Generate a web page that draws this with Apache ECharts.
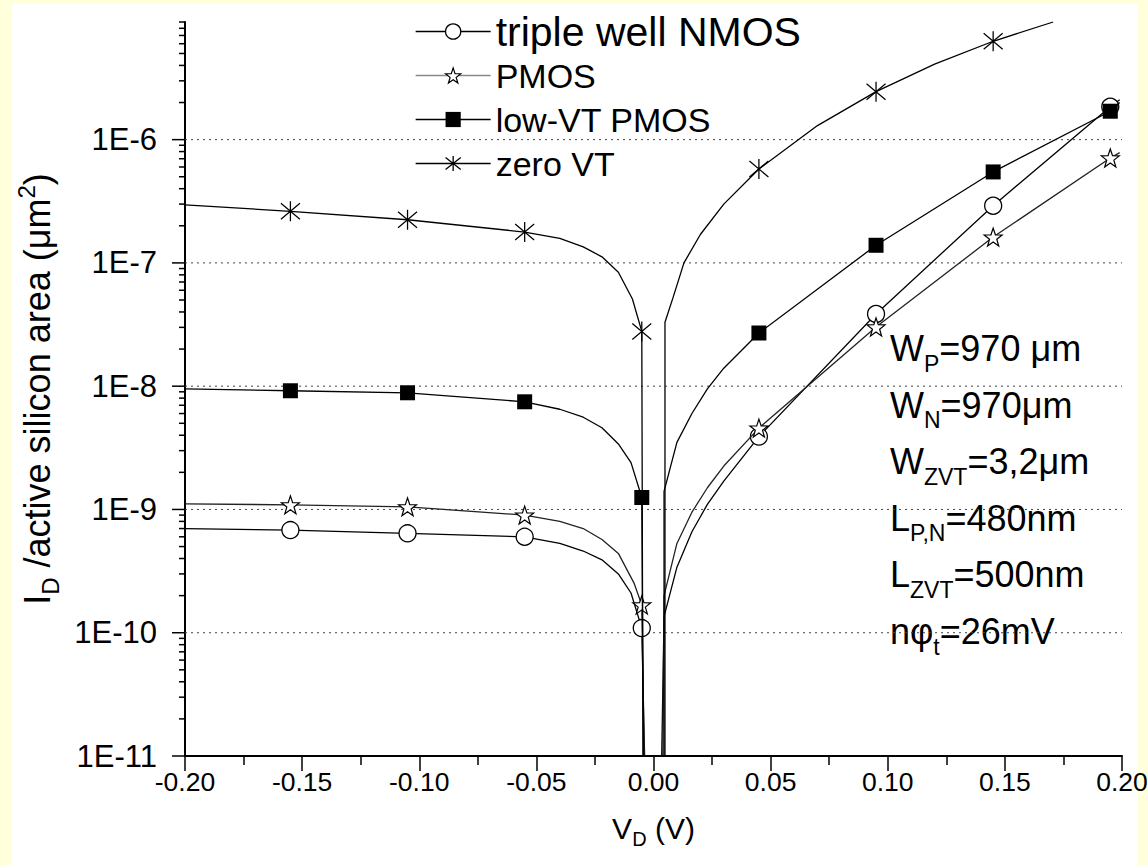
<!DOCTYPE html>
<html>
<head>
<meta charset="utf-8">
<script src="https://cdn.jsdelivr.net/npm/echarts@6/dist/echarts.min.js"></script>
<style>
  html, body { margin: 0; padding: 0; background: #FFFFDC; }
  #chart { width: 1148px; height: 865px; }
</style>
</head>
<body>
<div id="chart"></div>
<script>
// ---- axis set-up -------------------------------------------------------
const xRange = [-0.2, 0.2];
const xTickLabels = ['-0.20', '-0.15', '-0.10', '-0.05', '0.00', '0.05', '0.10', '0.15', '0.20'];
const yRange = [1e-11, 9e-6];
const yDecades = [1e-11, 1e-10, 1e-9, 1e-8, 1e-7, 1e-6];
const yDecadeLabels = ['1E-11', '1E-10', '1E-9', '1E-8', '1E-7', '1E-6'];

const seriesNames = ['triple well NMOS', 'PMOS', 'low-VT PMOS', 'zero VT'];

// ---- measured points (markers): [V_D, I_D / area] ----------------------
const nmosMarks = [[-0.155, 6.8e-10], [-0.105, 6.4e-10], [-0.055, 6.0e-10], [-0.005, 1.09e-10],
                   [0.045, 3.9e-9], [0.095, 3.85e-8], [0.145, 2.91e-7], [0.195, 1.85e-6]];
const pmosMarks = [[-0.155, 1.09e-9], [-0.105, 1.05e-9], [-0.055, 9.0e-10], [-0.005, 1.68e-10],
                   [0.045, 4.57e-9], [0.095, 3.02e-8], [0.145, 1.62e-7], [0.195, 7.1e-7]];
const lvtMarks  = [[-0.155, 9.18e-9], [-0.105, 8.84e-9], [-0.055, 7.47e-9], [-0.005, 1.25e-9],
                   [0.045, 2.70e-8], [0.095, 1.39e-7], [0.145, 5.47e-7], [0.195, 1.70e-6]];
const zvtMarks  = [[-0.155, 2.62e-7], [-0.105, 2.24e-7], [-0.055, 1.78e-7], [-0.005, 2.78e-8],
                   [0.045, 5.78e-7], [0.095, 2.45e-6], [0.145, 6.28e-6]];

// ---- model curves between the markers: [V_D, I_D / area] ---------------
const nmosCurve = [[-0.200, 7.0e-10], [-0.040, 5.3e-10], [-0.030, 4.6e-10], [-0.022, 3.9e-10],
                   [-0.015, 3.0e-10], [-0.0096, 2.1e-10], [-0.0038, 1e-11],
                   [0.0035, 1e-11], [0.0045, 1.35e-10], [0.010, 3.4e-10], [0.0164, 6.6e-10],
                   [0.023, 1.1e-9], [0.030, 1.7e-9], [0.199, 2.11e-6]];
const pmosCurve = [[-0.200, 1.11e-9], [-0.040, 8.0e-10], [-0.030, 7.0e-10], [-0.022, 5.7e-10],
                   [-0.015, 4.4e-10], [-0.0082, 2.5e-10], [-0.004, 1e-11],
                   [0.004, 1e-11], [0.0045, 2.0e-10], [0.010, 5.3e-10], [0.0164, 9.5e-10],
                   [0.023, 1.5e-9], [0.030, 2.25e-9], [0.199, 7.85e-7]];
const lvtCurve  = [[-0.200, 9.5e-9], [-0.040, 6.5e-9], [-0.030, 5.6e-9], [-0.022, 4.6e-9],
                   [-0.015, 3.4e-9], [-0.0096, 2.4e-9], [-0.0043, 1e-11],
                   [0.0045, 1e-11], [0.0045, 1.4e-9], [0.010, 3.5e-9], [0.0164, 6.0e-9],
                   [0.023, 9.5e-9], [0.030, 1.4e-8], [0.199, 2.0e-6]];
const zvtCurve  = [[-0.200, 2.96e-7], [-0.040, 1.58e-7], [-0.030, 1.35e-7], [-0.022, 1.12e-7],
                   [-0.015, 8.4e-8], [-0.009, 5.1e-8], [-0.0045, 1e-11],
                   [0.0049, 1e-11], [0.0049, 3.3e-8], [0.0083, 5.2e-8], [0.013, 1.0e-7],
                   [0.020, 1.7e-7], [0.030, 3.0e-7], [0.070, 1.3e-6], [0.120, 4.1e-6],
                   [0.1706, 9e-6]];

// ---- annotation block ---------------------------------------------------
const noteLines = [
  '{m|W}{s|P}{m|=970 μm}',
  '{m|W}{s|N}{m|=970μm}',
  '{m|W}{s|ZVT}{m|=3,2μm}',
  '{m|L}{s|P,N}{m|=480nm}',
  '{m|L}{s|ZVT}{m|=500nm}',
  '{m|nφ}{s|t}{m|=26mV}'
];

const FONT = '"Liberation Sans", Arial, Helvetica, sans-serif';

const STAR = 'path://M0,-10L2.35,-3.24L9.51,-3.09L3.8,1.24L5.88,8.09L0,4L-5.88,8.09L-3.8,1.24L-9.51,-3.09L-2.35,-3.24Z';
const ASTERISK = 'path://M0,-10L0,10M-9,-8L9,8M-9,8L9,-8';

// insert measured points into the curve in order of V_D; curve-only points carry no symbol
function mergePoints(curve, marks) {
  const out = [];
  let i = 0;
  curve.forEach(p => {
    while (i < marks.length && marks[i][0] <= p[0]) {
      out.push({ value: marks[i] });
      i++;
    }
    out.push({ value: p, symbol: 'none' });
  });
  while (i < marks.length) { out.push({ value: marks[i] }); i++; }
  return out;
}

function isDecade(v) {
  const e = Math.log10(v);
  return Math.abs(e - Math.round(e)) < 1e-6;
}

// y-axis ticks: decades (long) and 2..9 sub-divisions (short)
const yTickValues = [];
for (let e = -11; e <= -6; e++) {
  for (let m = 1; m <= 9; m++) {
    const v = m * Math.pow(10, e);
    if (v <= yRange[1] * 1.0001) yTickValues.push(v);
  }
}

const styles = {
  'triple well NMOS': { symbol: 'circle', size: 17, item: { color: '#fff', borderColor: '#000', borderWidth: 1.3 }, line: '#000' },
  'PMOS':             { symbol: STAR, size: 18, item: { color: '#fff', borderColor: '#000', borderWidth: 1.2 }, line: '#222' },
  'low-VT PMOS':      { symbol: 'rect', size: 15, item: { color: '#000', borderColor: '#000', borderWidth: 0 }, line: '#000' },
  'zero VT':          { symbol: ASTERISK, size: [19, 20], item: { color: '#000', borderColor: '#000', borderWidth: 1.3 }, line: '#000' }
};
const pointSets = {
  'triple well NMOS': [nmosCurve, nmosMarks],
  'PMOS': [pmosCurve, pmosMarks],
  'low-VT PMOS': [lvtCurve, lvtMarks],
  'zero VT': [zvtCurve, zvtMarks]
};

const lineSeries = seriesNames.map((name, idx) => {
  const st = styles[name];
  return {
    type: 'line',
    name: name,
    data: mergePoints(pointSets[name][0], pointSets[name][1]),
    symbol: st.symbol,
    symbolSize: st.size,
    showSymbol: true,
    showAllSymbol: true,
    itemStyle: st.item,
    lineStyle: { color: st.line, width: 1.3 },
    clip: true,
    z: 3 + idx,
    emphasis: { disabled: true },
    animation: false
  };
});

// dotted horizontal lines at the decades
const gridSeries = {
  type: 'custom',
  name: 'decade lines',
  silent: true,
  clip: false,
  z: 1,
  animation: false,
  data: yDecades.slice(1).map(v => [xRange[0], v]),
  renderItem: function (params, api) {
    const v = api.value(1);
    const a = api.coord([xRange[0], v]);
    const b = api.coord([xRange[1], v]);
    return {
      type: 'line',
      shape: { x1: a[0], y1: a[1], x2: b[0], y2: b[1] },
      style: { stroke: '#444', lineWidth: 1, lineDash: [2, 4] }
    };
  }
};

// y-axis tick marks drawn on the log scale
const tickSeries = {
  type: 'custom',
  name: 'y ticks',
  silent: true,
  clip: false,
  z: 10,
  animation: false,
  data: yTickValues.map(v => [xRange[0], v]),
  renderItem: function (params, api) {
    const v = api.value(1);
    const p = api.coord([api.value(0), v]);
    const len = isDecade(v) ? 13 : 6;
    return {
      type: 'line',
      shape: { x1: p[0] - len, y1: p[1], x2: p[0], y2: p[1] },
      style: { stroke: '#000', lineWidth: 1.5 }
    };
  }
};

const legendData = seriesNames.map((name, idx) => ({
  name: name,
  itemStyle: styles[name].item,
  lineStyle: { color: idx === 1 ? '#888' : '#000', width: 1.3 },
  textStyle: { fontSize: idx === 0 ? 41 : 34, lineHeight: 43, fontFamily: FONT, color: '#000' }
}));

const noteStart = 322;
const noteStep = 56.6;
const noteGraphics = noteLines.map((t, i) => ({
  type: 'text',
  left: 890,
  top: noteStart + i * noteStep,
  silent: true,
  style: {
    text: t,
    fill: '#000',
    rich: {
      m: { fontSize: 36, fontFamily: FONT, lineHeight: 40, fill: '#000' },
      s: { fontSize: 23, fontFamily: FONT, lineHeight: 40, padding: [30, 0, 0, 0], fill: '#000' }
    }
  }
}));

const chart = echarts.init(document.getElementById('chart'), null, { renderer: 'svg' });

chart.setOption({
  animation: false,
  backgroundColor: '#FFFFDC',
  textStyle: { fontFamily: FONT },
  grid: { left: 185, right: 26, top: 22, bottom: 109, containLabel: false, outerBoundsMode: 'none' },
  legend: {
    orient: 'vertical',
    left: 415,
    top: 10,
    padding: 0,
    itemWidth: 75,
    itemHeight: 19,
    itemGap: 1,
    selectedMode: false,
    data: legendData
  },
  xAxis: {
    type: 'value',
    min: xRange[0],
    max: xRange[1],
    interval: 0.05,
    name: '{m|V}{s|D}{m| (V)}',
    nameLocation: 'middle',
    nameGap: 55,
    nameTextStyle: {
      rich: {
        m: { fontSize: 30, fontFamily: FONT, color: '#000', lineHeight: 34 },
        s: { fontSize: 20, fontFamily: FONT, color: '#000', lineHeight: 34, padding: [22, 0, 0, 0] }
      }
    },
    axisLine: { onZero: false, lineStyle: { color: '#000', width: 2 } },
    axisTick: { show: true, inside: false, length: 15, lineStyle: { color: '#000', width: 1.5 } },
    minorTick: { show: true, splitNumber: 2, length: 9, lineStyle: { color: '#000', width: 1.5 } },
    splitLine: { show: false },
    axisLabel: {
      margin: 12,
      fontSize: 26.5,
      color: '#000',
      fontFamily: FONT,
      formatter: v => xTickLabels[Math.round((v - xRange[0]) / 0.05)]
    }
  },
  yAxis: {
    type: 'log',
    logBase: 10,
    min: yRange[0],
    max: yRange[1],
    name: '{m|I}{s|D}{m| /active silicon area (μm}{p|2}{m|)}',
    nameLocation: 'middle',
    nameGap: 128,
    nameRotate: 90,
    nameTextStyle: {
      rich: {
        m: { fontSize: 36, fontFamily: FONT, color: '#000', lineHeight: 40 },
        s: { fontSize: 24, fontFamily: FONT, color: '#000', lineHeight: 40, padding: [26, 0, 0, 0] },
        p: { fontSize: 24, fontFamily: FONT, color: '#000', lineHeight: 40, padding: [0, 0, 22, 0] }
      }
    },
    axisLine: { show: true, onZero: false, lineStyle: { color: '#000', width: 2 } },
    axisTick: { show: false },
    splitLine: { show: false },
    axisLabel: {
      margin: 28,
      fontSize: 31,
      color: '#000',
      fontFamily: FONT,
      formatter: function (v) {
        for (let i = 0; i < yDecades.length; i++) {
          if (Math.abs(Math.log10(v) - Math.log10(yDecades[i])) < 1e-6) return yDecadeLabels[i];
        }
        return '';
      }
    }
  },
  graphic: [
    { type: 'rect', z: -10, silent: true, shape: { x: 12, y: 4, width: 1126, height: 861 }, style: { fill: '#fff' } }
  ].concat(noteGraphics),
  series: [gridSeries].concat(lineSeries, [tickSeries])
});
</script>
</body>
</html>
